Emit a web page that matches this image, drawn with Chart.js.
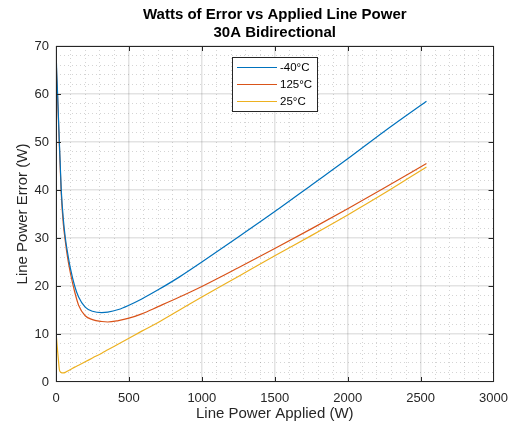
<!DOCTYPE html>
<html>
<head>
<meta charset="utf-8">
<script src="https://cdn.jsdelivr.net/npm/chart.js@4.4.0/dist/chart.umd.min.js"></script>
<style>
  html, body { margin: 0; padding: 0; background: #fff; }
  #wrap { width: 517px; height: 425px; }
</style>
</head>
<body>
<div id="wrap"><canvas id="chart" width="517" height="425"></canvas></div>
<script>
// data
const power = [1, 5, 11, 17, 23, 30, 36, 50, 64, 80, 100, 128, 155, 200, 250, 314, 355, 428, 500, 588, 700, 847, 1000, 1250, 1500, 1750, 2000, 2250, 2540];
const errMinus40 = [68.5, 64.5, 60, 55, 50, 44.6, 40, 34, 30, 26.8, 23.5, 20, 17.7, 15.6, 14.75, 14.45, 14.55, 15.1, 16.0, 17.3, 19.2, 21.9, 25.0, 30.2, 35.5, 41.0, 46.5, 52.2, 58.5];
const err125 = [67.5, 63.5, 59.3, 54.3, 49.3, 43.8, 39.3, 33, 29.3, 25.8, 22.5, 18.8, 16.0, 13.8, 13.0, 12.6, 12.5, 12.8, 13.3, 14.2, 15.7, 17.7, 19.9, 23.8, 27.8, 31.9, 36.1, 40.4, 45.5];
const err25 = [10, 8.7, 6.4, 4.4, 2.6, 2.1, 1.95, 1.9, 2.0, 2.3, 2.6, 3.1, 3.5, 4.2, 5.0, 6.0, 6.7, 7.9, 9.1, 10.6, 12.4, 15.0, 17.7, 22.0, 26.3, 30.5, 34.8, 39.3, 44.8];
const seriesNames = ['-40°C', '125°C', '25°C'];
const seriesColors = ['#0072BD', '#D95319', '#EDB120'];
const titleLines = ['Watts of Error vs Applied Line Power', '30A Bidirectional'];

const FONT = '"Liberation Sans", Arial, Helvetica, sans-serif';
const INK = '#262626';

function toPoints(ys) {
    return power.map((x, i) => ({ x: x, y: ys[i] }));
}

const majorGrid = 'rgba(38,38,38,0.13)';
const minorGrid = 'rgba(38,38,38,0.2)';

// title, axes box with inward ticks, legend
const decorations = {
    id: 'decorations',
    afterDraw(chart) {
        const ctx = chart.ctx;
        const a = chart.chartArea;
        const xs = chart.scales.x;
        const ys = chart.scales.y;
        ctx.save();

        // box
        ctx.strokeStyle = INK;
        ctx.lineWidth = 1;
        ctx.strokeRect(Math.round(a.left) + 0.5, Math.round(a.top) + 0.5,
            Math.round(a.right - a.left) - 1, Math.round(a.bottom - a.top) - 1);

        // inward major ticks
        ctx.beginPath();
        for (let v = 500; v < 3000; v += 500) {
            const px = Math.round(xs.getPixelForValue(v)) + 0.5;
            ctx.moveTo(px, a.bottom); ctx.lineTo(px, a.bottom - 5);
            ctx.moveTo(px, a.top); ctx.lineTo(px, a.top + 5);
        }
        for (let v = 10; v < 70; v += 10) {
            const py = Math.round(ys.getPixelForValue(v)) + 0.5;
            ctx.moveTo(a.left, py); ctx.lineTo(a.left + 5, py);
            ctx.moveTo(a.right, py); ctx.lineTo(a.right - 5, py);
        }
        ctx.stroke();

        // title
        const cx = (a.left + a.right) / 2;
        ctx.fillStyle = '#000';
        ctx.font = 'bold 15px ' + FONT;
        ctx.textAlign = 'center';
        ctx.textBaseline = 'middle';
        ctx.fillText(titleLines[0], cx, 15);
        ctx.fillText(titleLines[1], cx, 33);

        // legend
        const lx = 232.5, ly = 57.5, lw = 85, lh = 54;
        ctx.fillStyle = '#fff';
        ctx.fillRect(lx, ly, lw, lh);
        ctx.strokeStyle = INK;
        ctx.strokeRect(lx, ly, lw, lh);
        ctx.font = '11.5px ' + FONT;
        ctx.textAlign = 'left';
        chart.data.datasets.forEach((ds, i) => {
            const ry = 67 + i * 17;
            ctx.strokeStyle = ds.borderColor;
            ctx.lineWidth = 1;
            ctx.beginPath();
            ctx.moveTo(237, ry + 0.5);
            ctx.lineTo(277, ry + 0.5);
            ctx.stroke();
            ctx.fillStyle = '#000';
            ctx.fillText(ds.label, 280, ry + 1);
        });
        ctx.restore();
    }
};

const chart = document.querySelector('#chart').getContext('2d');

new Chart(chart, {
    type: 'line',
    data: {
        datasets: [
            { label: seriesNames[0], data: toPoints(errMinus40), borderColor: seriesColors[0] },
            { label: seriesNames[1], data: toPoints(err125), borderColor: seriesColors[1] },
            { label: seriesNames[2], data: toPoints(err25), borderColor: seriesColors[2] }
        ]
    },
    options: {
        responsive: false,
        animation: false,
        layout: { padding: { top: 46, right: 22, bottom: 0, left: 0 } },
        elements: {
            point: { radius: 0 },
            line: { borderWidth: 1.2, cubicInterpolationMode: 'monotone', fill: false }
        },
        plugins: {
            legend: { display: false },
            title: { display: false },
            tooltip: { enabled: false }
        },
        scales: {
            x: {
                type: 'linear',
                min: 0,
                max: 3000,
                afterFit(scale) { scale.height = 43; },
                ticks: {
                    stepSize: 100,
                    autoSkip: false,
                    maxRotation: 0,
                    padding: 9,
                    color: INK,
                    font: { family: FONT, size: 13 },
                    callback: (v) => (v % 500 === 0 ? String(v) : '')
                },
                grid: {
                    drawTicks: false,
                    lineWidth: (c) => (c.tick && c.tick.value % 500 === 0 ? 1.5 : 1),
                    color: (c) => (c.tick && c.tick.value % 500 === 0 ? majorGrid : minorGrid)
                },
                border: {
                    display: false,
                    dash: (c) => (c.tick && c.tick.value % 500 !== 0 ? [1, 3] : [])
                },
                title: {
                    display: true,
                    text: 'Line Power Applied (W)',
                    color: INK,
                    font: { family: FONT, size: 15 },
                    padding: { top: 0, bottom: 2 }
                }
            },
            y: {
                min: 0,
                max: 70,
                afterFit(scale) { scale.width = 56; },
                ticks: {
                    stepSize: 2,
                    autoSkip: false,
                    padding: 7,
                    color: INK,
                    font: { family: FONT, size: 13 },
                    callback: (v) => (v % 10 === 0 ? String(v) : '')
                },
                grid: {
                    drawTicks: false,
                    lineWidth: (c) => (c.tick && c.tick.value % 10 === 0 ? 1.5 : 1),
                    color: (c) => (c.tick && c.tick.value % 10 === 0 ? majorGrid : minorGrid)
                },
                border: {
                    display: false,
                    dash: (c) => (c.tick && c.tick.value % 10 !== 0 ? [1, 3] : [])
                },
                title: {
                    display: true,
                    text: 'Line Power Error (W)',
                    color: INK,
                    font: { family: FONT, size: 15 },
                    padding: { top: 14, bottom: 0 }
                }
            }
        }
    },
    plugins: [decorations]
});
</script>
</body>
</html>
